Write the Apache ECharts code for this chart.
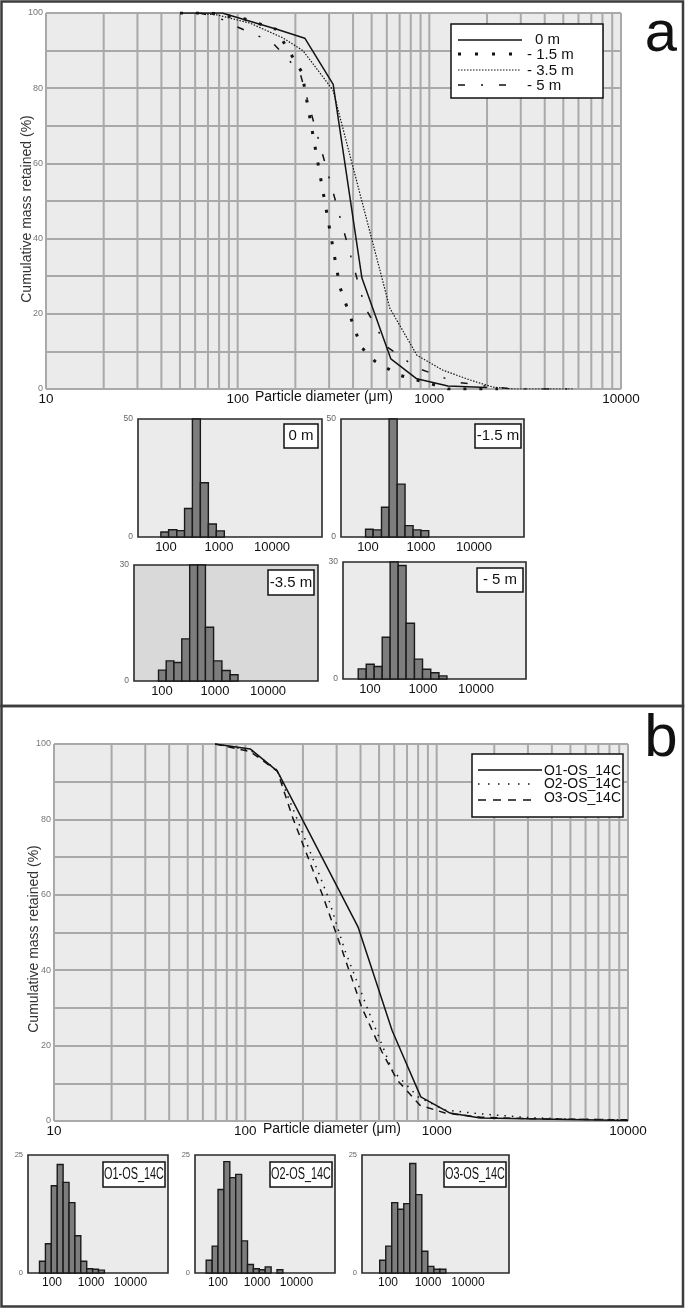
<!DOCTYPE html>
<html><head><meta charset="utf-8">
<script src="https://cdn.jsdelivr.net/npm/echarts@6/dist/echarts.min.js"></script>
<style>html,body{margin:0;padding:0;background:#fff}#c{width:685px;height:1308px}</style>
</head><body><div id="c"></div>
<script>
// ================= DATA =================
const gridDiameters = [10,20,30,40,50,60,70,80,90,100,200,300,400,500,600,700,800,900,1000,2000,3000,4000,5000,6000,7000,8000,9000,10000];
const histTickValues = [100,1000,10000];

// Panel a : cumulative curves  [diameter µm, cumulative %]
const seriesNamesA = ['0 m','- 1.5 m','- 3.5 m','- 5 m'];
const curve0m   = [[50,100],[83,100],[160,95.7],[224,93.3],[315,81],[445,29.5],[630,8],[860,2.7],[1250,0.8],[2000,0.4]];
const curve1_5m = [[50,100],[72,100],[109,98.4],[158,95.7],[216,84.3],[342,27],[440,11.2],[520,7.4],[694,3.7],[1033,1.3],[1250,0],[2280,0]];
const curve3_5m = [[60,100],[78,99.5],[116,97.3],[172,93.4],[219,90],[314,79.5],[622,21.5],[861,9],[1178,5],[1630,2.4],[2150,0.5],[2730,0],[5600,0]];
const curve5m   = [[63,100],[78,99],[94.5,96.8],[151,92.3],[211,84.3],[461,21.8],[601,11.2],[861,5.6],[1362,1.9],[2150,0.5],[2800,0],[5600,0]];

// Panel b : cumulative curves
const seriesNamesB = ['O1-OS_14C','O2-OS_14C','O3-OS_14C'];
const curveO1 = [[69.5,100],[106,98.7],[147,92.8],[388,51.5],[585,24],[826,6.4],[1175,2.1],[1690,0.8],[10000,0.1]];
const curveO2 = [[69.5,100],[106,98.4],[147,93],[185,80.5],[268,60],[330,45.5],[432,30.2],[585,13.5],[800,6.4],[1107,2.9],[1690,1.9],[3000,0.9],[5000,0.5],[10000,0.3]];
const curveO3 = [[69.5,100],[106,98],[147,92.8],[177,80.4],[252,60.2],[320,45.4],[407,30],[518,18.3],[621,10.9],[818,4.2],[1107,2.1],[1700,1.0],[3000,0.6],[10000,0.3]];

// Histograms: bin edges (µm) and frequency (%)
const hist0mEdges   = [80,112,160,224,315,445,630,890,1260];
const hist0mVals    = [2.1,3.1,2.7,12.1,50,23,5.5,2.6];
const hist1_5mEdges = [90,125,180,250,355,500,710,1000,1400];
const hist1_5mVals  = [3.3,3.0,12.6,50,22.4,4.8,3.0,2.7];
const hist3_5mEdges = [86,120,168,236,333,470,660,940,1350,1930,2720];
const hist3_5mVals  = [2.8,5.2,4.8,10.9,30,30,13.9,5.2,2.7,1.6];
const hist5mEdges   = [60,85,120,170,240,340,480,690,980,1400,2000,2830];
const hist5mVals    = [2.6,3.8,3.2,10.7,30,29.1,14.3,5.1,2.5,1.6,0.8];
const histO1Edges = [48,68,96,136,192,272,384,543,768,1086,1536,2172];
const histO1Vals  = [2.5,6.2,18.5,23.0,19.2,14.9,7.9,2.5,0.9,0.8,0.6];
const histO2Edges = [50,71,100,141,200,283,400,566,800,1131,1600,2263,3200,4525];
const histO2Vals  = [2.7,5.7,17.7,23.6,20.2,20.9,6.8,1.8,0.9,0.7,1.3,0,0.7];
const histO3Edges = [62,88,124,175,248,350,495,700,990,1400,1980,2800];
const histO3Vals  = [2.7,5.7,14.9,13.5,14.7,23.2,16.6,4.6,1.4,0.8,0.8];
const histLabelsA = ['0 m','-1.5 m','-3.5 m','- 5 m'];

// ================= BUILD =================
const FONT = '"Liberation Sans", Arial, Helvetica, sans-serif';
const GRIDC = '#a9a9a9';

function mainX(gi){ return {type:'log', logBase:10, gridIndex:gi, min:10, max:10000,
  axisLine:{show:false}, axisTick:{show:false}, splitLine:{show:false},
  axisLabel:{fontSize:13.5, color:'#111', margin:3, fontFamily:FONT, formatter:v=>String(Math.round(v))}}; }
function mainY(gi){ return {type:'value', gridIndex:gi, min:0, max:100, interval:10,
  axisLine:{show:false}, axisTick:{show:false},
  splitLine:{show:true, lineStyle:{color:GRIDC, width:2}},
  axisLabel:{fontSize:9, color:'#777', margin:3, fontFamily:FONT, formatter:v=>(v%20===0?String(v):'')}}; }
function histX(gi,min,max,fs){ return {type:'value', gridIndex:gi, min, max,
  axisLine:{show:false}, axisTick:{show:false}, splitLine:{show:false},
  axisLabel:{customValues:histTickValues.map(Math.log10), fontSize:fs, color:'#111', margin:4, fontFamily:FONT,
    formatter:v=>String(Math.round(Math.pow(10,v)))}}; }
function histY(gi,max,fs){ return {type:'value', gridIndex:gi, min:0, max, interval:max,
  axisLine:{show:false}, axisTick:{show:false}, splitLine:{show:false},
  axisLabel:{fontSize:fs, color:'#666', margin:5, fontFamily:FONT}}; }

function gridLineSeries(ai){
  return {type:'custom', xAxisIndex:ai, yAxisIndex:ai, z:1, silent:true, clip:false,
    encode:{x:0,y:1}, data:gridDiameters.map(v=>[v,50]),
    renderItem:(p,api)=>{ const x=api.value(0); const t=api.coord([x,100]), b=api.coord([x,0]);
      return {type:'line', shape:{x1:t[0],y1:t[1],x2:b[0],y2:b[1]}, style:{stroke:GRIDC, lineWidth:2}}; }};
}
function curve(ai,name,data,ls){
  return {type:'line', name, xAxisIndex:ai, yAxisIndex:ai, data, symbol:'none', showSymbol:false, z:3,
    lineStyle:Object.assign({color:'#141414', width:1.5, type:'solid'}, ls)};
}
function barSeries(ai,edges,vals){
  const data = vals.map((h,i)=>[Math.log10(edges[i]), Math.log10(edges[i+1]), h]);
  return {type:'custom', xAxisIndex:ai, yAxisIndex:ai, z:3, silent:true, encode:{x:[0,1], y:2}, data,
    renderItem:(p,api)=>{ const h=api.value(2); if(!(h>0)) return {type:'group', children:[]};
      const a=api.coord([api.value(0),h]), b=api.coord([api.value(1),0]);
      return {type:'rect', shape:{x:a[0],y:a[1],width:b[0]-a[0],height:b[1]-a[1]},
        style:{fill:'#7d7d7d', stroke:'#1a1a1a', lineWidth:1.4}}; }};
}

const histBox = (left,top,width,height,bg)=>({left,top,width,height,show:true,backgroundColor:bg||'#ebebeb',borderColor:'#2a2a2a',borderWidth:1.6});
const grids = [
  {left:46, top:13, width:575, height:376, show:true, backgroundColor:'#ebebeb', borderWidth:0},
  {left:54, top:744, width:574, height:377, show:true, backgroundColor:'#ebebeb', borderWidth:0},
  histBox(138,419,184,118), histBox(341,419,183,118),
  histBox(134,565,184,116,'#d9d9d9'), histBox(343,562,183,117),
  histBox(28,1155,140,118), histBox(195,1155,140,118), histBox(362,1155,147,118)
];
const xAxes = [mainX(0), mainX(1),
  histX(2,1.472,4.943,13), histX(3,1.491,4.943,13), histX(4,1.472,4.943,13), histX(5,1.491,4.943,13),
  histX(6,1.388,4.959,12), histX(7,1.413,4.985,12), histX(8,1.35,5.025,12)];
const yAxes = [mainY(0), mainY(1),
  histY(2,50,8.5), histY(3,50,8.5), histY(4,30,8.5), histY(5,30,8.5),
  histY(6,25,7.5), histY(7,25,7.5), histY(8,25,7.5)];

const series = [
  gridLineSeries(0), gridLineSeries(1),
  curve(0, seriesNamesA[0], curve0m, {}),
  curve(0, seriesNamesA[1], curve1_5m, {width:3, type:[3,13]}),
  curve(0, seriesNamesA[2], curve3_5m, {width:1.2, type:[1.5,1.5]}),
  curve(0, seriesNamesA[3], curve5m, {width:1.5, type:[7,16,2,16]}),
  curve(1, seriesNamesB[0], curveO1, {}),
  curve(1, seriesNamesB[1], curveO2, {width:1.5, type:[1.5,6]}),
  curve(1, seriesNamesB[2], curveO3, {width:1.5, type:[7,6]}),
  barSeries(2, hist0mEdges, hist0mVals), barSeries(3, hist1_5mEdges, hist1_5mVals),
  barSeries(4, hist3_5mEdges, hist3_5mVals), barSeries(5, hist5mEdges, hist5mVals),
  barSeries(6, histO1Edges, histO1Vals), barSeries(7, histO2Edges, histO2Vals), barSeries(8, histO3Edges, histO3Vals)
];

// ---- graphic (frames, legends, titles) ----
const G = [];
function txt(x,y,text,st,el){ G.push(Object.assign({type:'text', x, y, z:100, silent:true,
  style:Object.assign({text, fill:'#111', fontSize:14, fontFamily:FONT, align:'left', verticalAlign:'middle'}, st||{})}, el||{})); }
function ln(x1,y1,x2,y2,st){ G.push({type:'line', z:100, silent:true, shape:{x1,y1,x2,y2}, style:Object.assign({stroke:'#111', lineWidth:1.5}, st||{})}); }
function rc(x,y,w,h,st){ G.push({type:'rect', z:99, silent:true, shape:{x,y,width:w,height:h}, style:Object.assign({fill:'#fff', stroke:'#111', lineWidth:1.5}, st||{})}); }

rc(1.5,1.5,681.5,704.5,{fill:'none', stroke:'#3c3c3c', lineWidth:2.5});
rc(1.5,706,681.5,600.5,{fill:'none', stroke:'#3c3c3c', lineWidth:2.5});

// panel a legend
rc(451,24,152,74);
ln(458,40,522,40);
ln(458,54,512,54,{lineWidth:3, lineDash:[3,14]});
ln(458,70,520,70,{lineWidth:1.2, lineDash:[1.5,1.5]});
ln(458,85,509,85,{lineWidth:1.5, lineDash:[7,16,2,16]});
txt(535,40,seriesNamesA[0],{fontSize:15});
txt(527,55,seriesNamesA[1],{fontSize:15});
txt(527,71,seriesNamesA[2],{fontSize:15});
txt(527,86,seriesNamesA[3],{fontSize:15});

// panel b legend
rc(472,754,151,63);
ln(478,770,542,770);
ln(478,784,537,784,{lineDash:[1.5,8.5]});
ln(478,800,537,800,{lineDash:[8,7]});
txt(621,771,seriesNamesB[0],{align:'right'});
txt(621,784,seriesNamesB[1],{align:'right'});
txt(621,798,seriesNamesB[2],{align:'right'});

// panel letters
txt(661,35,'a',{fontSize:58, align:'center'});
txt(661,739,'b',{fontSize:60, align:'center'});

// axis titles
txt(27,209,'Cumulative mass retained (%)',{align:'center', fill:'#333'},{rotation:Math.PI/2});
txt(34,939,'Cumulative mass retained (%)',{align:'center', fill:'#333'},{rotation:Math.PI/2});
txt(255,397.5,'Particle diameter (μm)');
txt(263,1129.5,'Particle diameter (μm)');

// histogram labels
rc(284,424,34,24); txt(301,436,histLabelsA[0],{fontSize:15, align:'center'});
rc(475,424,46,24); txt(498,436,histLabelsA[1],{fontSize:15, align:'center'});
rc(268,570,46,25); txt(291,582.5,histLabelsA[2],{fontSize:15, align:'center'});
rc(477,568,46,24); txt(500,580,histLabelsA[3],{fontSize:15, align:'center'});
rc(103,1162,62,25); txt(134,1174.5,seriesNamesB[0],{fontSize:16, align:'center'},{scaleX:0.68});
rc(270,1162,62,25); txt(301,1174.5,seriesNamesB[1],{fontSize:16, align:'center'},{scaleX:0.68});
rc(444,1162,62,25); txt(475,1174.5,seriesNamesB[2],{fontSize:16, align:'center'},{scaleX:0.68});

const chart = echarts.init(document.getElementById('c'), null, {renderer:'canvas'});
chart.setOption({
  animation:false,
  backgroundColor:'#ffffff',
  textStyle:{fontFamily:FONT},
  grid:grids, xAxis:xAxes, yAxis:yAxes, series,
  graphic:{elements:G}
});
</script></body></html>
